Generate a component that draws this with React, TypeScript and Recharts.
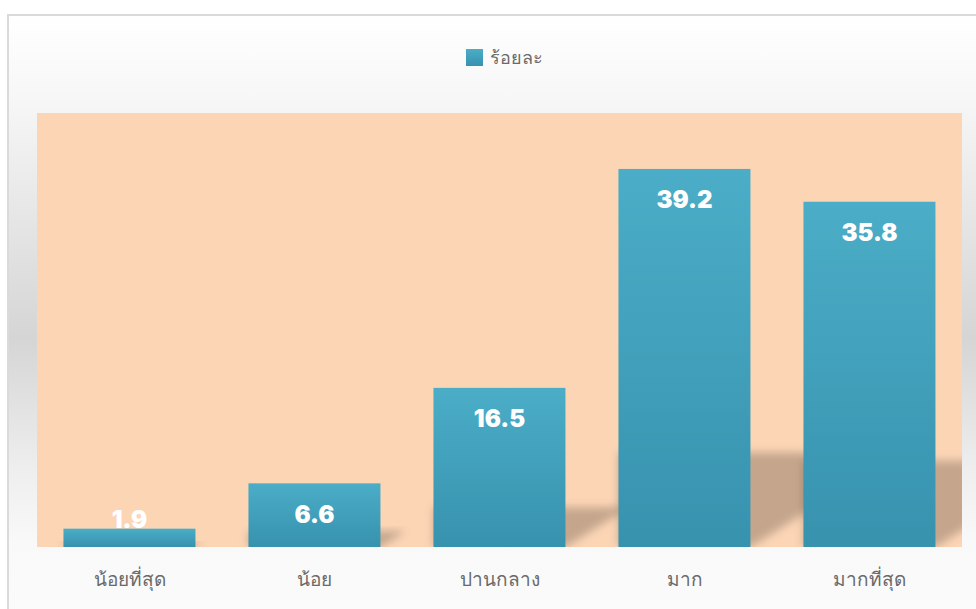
import React from 'react'
import {
  BarChart,
  Bar,
  XAxis,
  YAxis,
  CartesianGrid,
  Legend,
  LabelList,
} from 'recharts'

const categories = ['น้อยที่สุด', 'น้อย', 'ปานกลาง', 'มาก', 'มากที่สุด']
const percentValues = [1.9, 6.6, 16.5, 39.2, 35.8]
const seriesName = 'ร้อยละ'

const data = categories.map((level, i) => ({ level, value: percentValues[i] }))

const CHART_W = 976
const CHART_H = 609
const MARGIN = { top: 83, right: 14, bottom: 32, left: 37 }
const LEGEND_H = 30
const XAXIS_H = 30

const PLOT = {
  x: MARGIN.left,
  y: MARGIN.top + LEGEND_H,
  w: CHART_W - MARGIN.left - MARGIN.right,
  h: CHART_H - MARGIN.top - LEGEND_H - MARGIN.bottom - XAXIS_H,
}

const COLORS = {
  plotBg: '#fcd5b5',
  barTop: '#4badc7',
  barBottom: '#3792ae',
  axisText: '#6a6a6a',
}

const FONT = "Tahoma, 'Noto Sans', 'DejaVu Sans', sans-serif"

function BarWithShadow(props: any) {
  const { x, y, width, height } = props
  if (!height || height <= 0) return null
  const base = y + height
  const hs = height * 0.25
  const run = hs * 1.6
  const pts = `${x},${base} ${x + width},${base} ${x + width + run},${base - hs} ${x},${base - hs}`
  return (
    <g>
      <g clipPath="url(#plotClip)">
        <polygon points={pts} fill="#000" fillOpacity={0.22} filter="url(#shadowBlur)" />
      </g>
      <rect x={x} y={y} width={width} height={height} fill="url(#barGrad)" />
    </g>
  )
}

function ValueLabel(props: any) {
  const { x, y, width, height, value } = props
  const base = y + height
  const cy = Math.min(y + 31, base - 28)
  return (
    <text
      x={x + width / 2}
      y={cy}
      textAnchor="middle"
      dominantBaseline="central"
      fill="#ffffff"
      fontFamily="Inter, 'DejaVu Sans', sans-serif"
      fontWeight={900}
      fontSize={24}
    >
      {value}
    </text>
  )
}

function LegendContent() {
  return (
    <div style={{ display: 'flex', alignItems: 'center', height: LEGEND_H, fontFamily: FONT }}>
      <span
        style={{
          display: 'inline-block',
          width: 17,
          height: 17,
          background: `linear-gradient(to bottom, ${COLORS.barTop}, ${COLORS.barBottom})`,
          marginRight: 7,
        }}
      />
      <span style={{ color: COLORS.axisText, fontSize: 18 }}>{seriesName}</span>
    </div>
  )
}

export default function App() {
  return (
    <div
      style={{
        position: 'absolute',
        left: 0,
        top: 0,
        width: CHART_W,
        height: CHART_H,
        overflow: 'hidden',
        background: '#fff',
      }}
    >
      <div
        style={{
          position: 'absolute',
          left: 7,
          top: 14,
          width: 1000,
          height: 620,
          border: '2px solid #dadada',
          background:
            'linear-gradient(to bottom, #ffffff 0%, #f7f7f7 13%, #d5d5d5 52%, #eeeeee 73%, #f9f9f9 85%, #fbfbfb 100%)',
        }}
      />
      <div style={{ position: 'absolute', left: 0, top: 0 }}>
        <BarChart
          width={CHART_W}
          height={CHART_H}
          data={data}
          margin={MARGIN}
          barCategoryGap="14.3%"
        >
          <defs>
            <linearGradient id="barGrad" x1="0" y1="0" x2="0" y2="1">
              <stop offset="0%" stopColor={COLORS.barTop} />
              <stop offset="100%" stopColor={COLORS.barBottom} />
            </linearGradient>
            <filter id="shadowBlur" x="-30%" y="-30%" width="160%" height="160%">
              <feGaussianBlur stdDeviation="4" />
            </filter>
            <clipPath id="plotClip">
              <rect x={PLOT.x} y={PLOT.y} width={PLOT.w} height={PLOT.h} />
            </clipPath>
          </defs>
          <CartesianGrid fill={COLORS.plotBg} horizontal={false} vertical={false} />
          <Legend
            verticalAlign="top"
            align="left"
            content={<LegendContent />}
            wrapperStyle={{ top: 42, left: 466, width: 'auto' }}
          />
          <XAxis
            dataKey="level"
            height={XAXIS_H}
            axisLine={false}
            tickLine={false}
            tickMargin={20}
            tick={{ fill: COLORS.axisText, fontSize: 19, fontFamily: FONT, fontWeight: 300 }}
          />
          <YAxis hide domain={[0, 45]} />
          <Bar
            dataKey="value"
            name={seriesName}
            shape={BarWithShadow}
            isAnimationActive={false}
          >
            <LabelList dataKey="value" content={ValueLabel} />
          </Bar>
        </BarChart>
      </div>
    </div>
  )
}
